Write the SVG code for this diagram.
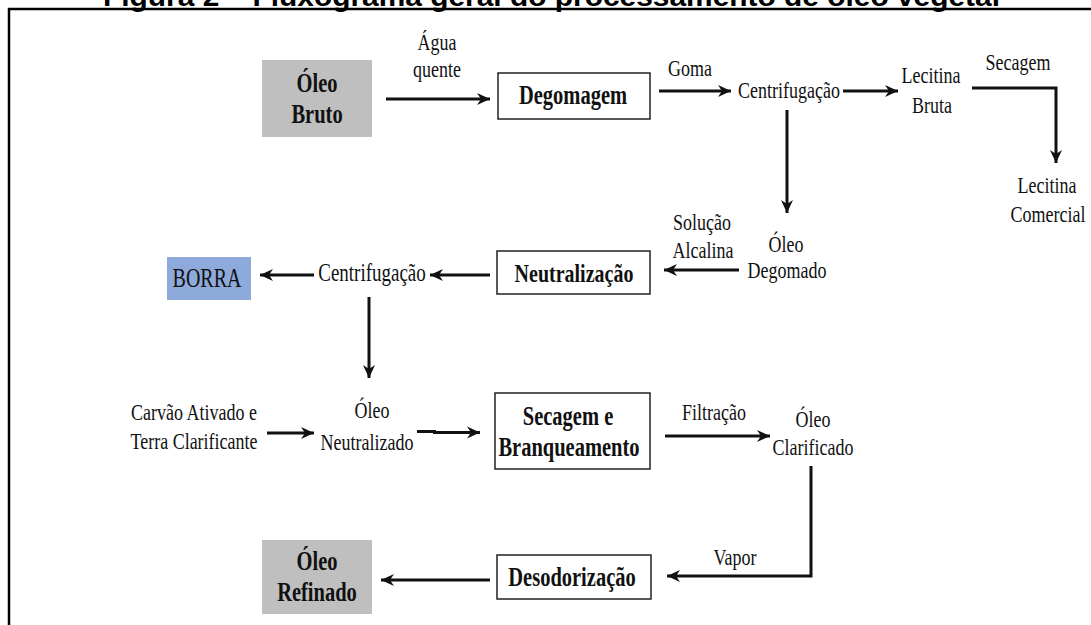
<svg xmlns="http://www.w3.org/2000/svg" width="1091" height="625" viewBox="0 0 1091 625">
<style>
.t{font-family:"Liberation Serif","Times New Roman",serif;font-size:18px;fill:#111;text-anchor:middle}
.b{font-weight:bold;font-size:20.5px}
.title{font-family:"Liberation Sans",Arial,sans-serif;font-weight:bold;font-size:28px;fill:#000}
.box{fill:#fff;stroke:#222;stroke-width:1.5}
.gray{fill:#bfbfbf}
.blue{fill:#8eaadb}
.c{fill:none;stroke:#111;stroke-width:3;marker-end:url(#ah)}
.n{fill:none;stroke:#111;stroke-width:3}
</style>
<defs>
<marker id="ah" markerUnits="userSpaceOnUse" markerWidth="14" markerHeight="14" viewBox="0 0 14 14" refX="13" refY="7" orient="auto">
<path d="M0,1 L13,7 L0,13 L4,7 z" fill="#111"/>
</marker>
</defs>
<rect width="1091" height="625" fill="#fff"/>
<text class="title" x="103" y="6" textLength="897" lengthAdjust="spacingAndGlyphs">Figura 2 – Fluxograma geral do processamento de óleo vegetal</text>
<path d="M1091,9 H9 V625" fill="none" stroke="#000" stroke-width="2.5"/>

<g id="oleo-bruto">
<rect class="gray" x="262" y="60" width="110" height="77"/>
<text class="t b" transform="translate(317,92) scale(1,1.35)">Óleo</text>
<text class="t b" transform="translate(317,123) scale(1,1.35)">Bruto</text>
</g>
<g id="degomagem">
<rect class="box" x="498" y="73" width="152" height="46"/>
<text class="t b" transform="translate(573,104) scale(1,1.3)">Degomagem</text>
</g>
<g id="centrifugacao1">
<text class="t" transform="translate(789,98) scale(1,1.33)">Centrifugação</text>
</g>
<g id="lecitina-bruta">
<text class="t" transform="translate(931,83) scale(1,1.33)">Lecitina</text>
<text class="t" transform="translate(932,113) scale(1,1.33)">Bruta</text>
</g>
<g id="lecitina-comercial">
<text class="t" transform="translate(1047,193) scale(1,1.33)">Lecitina</text>
<text class="t" transform="translate(1048,222) scale(1,1.33)">Comercial</text>
</g>
<g id="oleo-degomado">
<text class="t" transform="translate(786,252) scale(1,1.33)">Óleo</text>
<text class="t" transform="translate(787,278) scale(1,1.33)">Degomado</text>
</g>
<g id="neutralizacao">
<rect class="box" x="497" y="251" width="153" height="43"/>
<text class="t b" transform="translate(574,282) scale(1,1.3)" style="font-size:20px">Neutralização</text>
</g>
<g id="centrifugacao2">
<text class="t" transform="translate(372,281) scale(1,1.33)" style="font-size:19px">Centrifugação</text>
</g>
<g id="borra">
<rect class="blue" x="167" y="257" width="84" height="43"/>
<text class="t" transform="translate(207,287) scale(1,1.35)" style="font-size:20px">BORRA</text>
</g>
<g id="carvao">
<text class="t" transform="translate(194,420) scale(1,1.33)">Carvão Ativado e</text>
<text class="t" transform="translate(194,449) scale(1,1.33)">Terra Clarificante</text>
</g>
<g id="oleo-neutralizado">
<text class="t" transform="translate(372,418) scale(1,1.33)">Óleo</text>
<text class="t" transform="translate(367,450) scale(1,1.33)">Neutralizado</text>
</g>
<g id="secagem-branqueamento">
<rect class="box" x="495" y="393" width="155" height="76"/>
<text class="t b" transform="translate(568,425) scale(1,1.3)">Secagem e</text>
<text class="t b" transform="translate(569,456) scale(1,1.3)">Branqueamento</text>
</g>
<g id="oleo-clarificado">
<text class="t" transform="translate(813,427) scale(1,1.33)">Óleo</text>
<text class="t" transform="translate(813,455) scale(1,1.33)">Clarificado</text>
</g>
<g id="desodorizacao">
<rect class="box" x="497" y="555" width="154" height="44"/>
<text class="t b" transform="translate(572,586) scale(1,1.3)">Desodorização</text>
</g>
<g id="oleo-refinado">
<rect class="gray" x="262" y="540" width="110" height="74"/>
<text class="t b" transform="translate(317,570) scale(1,1.35)">Óleo</text>
<text class="t b" transform="translate(317,601) scale(1,1.35)">Refinado</text>
</g>

<g id="connectors">
<path class="c" d="M386,99 H490"/>
<path class="c" d="M659,91 H731"/>
<path class="c" d="M843,91 H898"/>
<path class="c" d="M972,88 H1056 V163"/>
<path class="c" d="M787,110 V213"/>
<path class="c" d="M739,270 H664"/>
<path class="c" d="M490,275 H430"/>
<path class="c" d="M314,275 H260"/>
<path class="c" d="M369,297 V378"/>
<path class="c" d="M267,433 H314"/>
<path class="n" d="M417,431.5 H436"/>
<path class="c" d="M433,432.5 H480"/>
<path class="c" d="M665,436 H770"/>
<path class="c" d="M811,466 V576 H667"/>
<path class="c" d="M490,580 H381"/>
</g>
<g id="labels">
<text class="t" transform="translate(437,50) scale(1,1.33)">Água</text>
<text class="t" transform="translate(437,77) scale(1,1.33)">quente</text>
<text class="t" transform="translate(690,76) scale(1,1.33)">Goma</text>
<text class="t" transform="translate(1018,70) scale(1,1.33)">Secagem</text>
<text class="t" transform="translate(702,230) scale(1,1.33)">Solução</text>
<text class="t" transform="translate(703,258) scale(1,1.33)">Alcalina</text>
<text class="t" transform="translate(714,420) scale(1,1.33)">Filtração</text>
<text class="t" transform="translate(735,565) scale(1,1.33)">Vapor</text>
</g>
</svg>
